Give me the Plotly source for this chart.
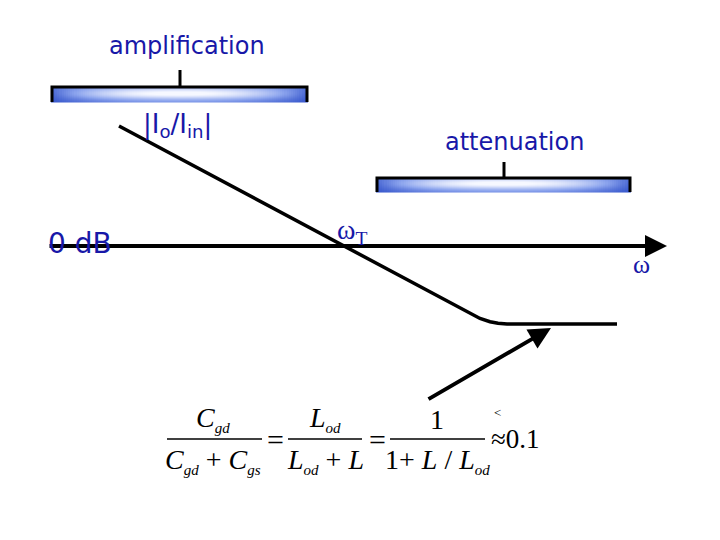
import numpy as np
import plotly.graph_objects as go

# ---- diagram data (pixel-like units on a 720 x 540 canvas) ----
response_x = [119, 343, 470, 480, 490, 498, 507, 617]
response_y = [126, 246, 314, 318.5, 321.7, 323.3, 324, 324]

axis_x = [48, 667]
axis_y = [246, 246]

pointer_x = [427, 551]
pointer_y = [400, 328]

bracket_x0 = [52, 377]
bracket_x1 = [307, 630]
bracket_top = [87, 178]
bracket_bottom = [102, 192]
bracket_tick = [180, 504]
bracket_tick_top = [70, 162]
bracket_labels = ["amplification", "attenuation"]
bracket_label_x = [187, 514]
bracket_label_y = [46, 142]


def sub(s):
    return '<sub><span style="font-size:15px"><i>' + s + '</i></span></sub>'


frac_center = [213, 325, 437]
frac_x0 = [167, 288, 390]
frac_x1 = [262, 362, 485]
frac_num = ["<i>C</i>" + sub("gd"), "<i>L</i>" + sub("od"), "1"]
frac_den = ["<i>C</i>" + sub("gd") + " + <i>C</i>" + sub("gs"),
            "<i>L</i>" + sub("od") + " + <i>L</i>",
            "1+ <i>L</i> / <i>L</i>" + sub("od")]
equals_x = [275, 377]

BLUE_TXT = "#1818a8"
PAGE_MARGIN = 8  # browser body margin around the plot
fig = go.Figure()

# gradient bars for brackets
for x0, x1, yt, yb in zip(bracket_x0, bracket_x1, bracket_top, bracket_bottom):
    xs = np.linspace(x0, x1, 120)
    ys = np.linspace(yt, yb, 16)
    u = (xs - (x0 + x1) / 2) / ((x1 - x0) / 2)
    v = (ys - yt) / (yb - yt)
    hz = np.clip(1 - np.abs(u) ** 2.2, 0, 1)
    vp = np.exp(-((v - 0.42) / 0.38) ** 2)
    z = np.outer(0.3 + 0.7 * vp, hz) * 0.95 + np.outer(0.15 * (1 - v), np.ones_like(xs))
    fig.add_trace(go.Heatmap(x=xs, y=ys, z=z, zmin=0, zmax=1, showscale=False,
                             hoverinfo="skip",
                             colorscale=[[0, "#3656cc"], [0.45, "#8ea6ee"], [1, "#f6f8ff"]]))
    # outline: top and ends
    fig.add_trace(go.Scatter(x=[x0, x0, x1, x1], y=[yb, yt, yt, yb], mode="lines",
                             line=dict(color="black", width=3), hoverinfo="skip"))

for tx, tt, yt in zip(bracket_tick, bracket_tick_top, bracket_top):
    fig.add_trace(go.Scatter(x=[tx, tx], y=[yt, tt], mode="lines",
                             line=dict(color="black", width=3), hoverinfo="skip"))

for lab, lx, ly in zip(bracket_labels, bracket_label_x, bracket_label_y):
    fig.add_annotation(x=lx, y=ly, text=lab, showarrow=False,
                       font=dict(family="DejaVu Sans", size=24, color=BLUE_TXT))

# response curve
fig.add_trace(go.Scatter(x=response_x, y=response_y, mode="lines",
                         line=dict(color="black", width=3.5), hoverinfo="skip"))

# horizontal axis with arrow
fig.add_annotation(x=axis_x[1], y=axis_y[1], ax=axis_x[0], ay=axis_y[0],
                   xref="x", yref="y", axref="x", ayref="y", text="",
                   showarrow=True, arrowhead=2, arrowsize=1.1, arrowwidth=4,
                   arrowcolor="black")

# pointer arrow
fig.add_annotation(x=pointer_x[1], y=pointer_y[1], ax=pointer_x[0], ay=pointer_y[0],
                   xref="x", yref="y", axref="x", ayref="y", text="",
                   showarrow=True, arrowhead=2, arrowsize=1.1, arrowwidth=4,
                   arrowcolor="black")

# labels
fig.add_annotation(x=80, y=243, text="0 dB", showarrow=False,
                   font=dict(family="DejaVu Sans", size=28, color=BLUE_TXT))
fig.add_annotation(x=177, y=125, text="|I<sub>o</sub>/I<sub>in</sub>|", showarrow=False,
                   font=dict(family="DejaVu Sans", size=26, color=BLUE_TXT))
fig.add_annotation(x=352, y=231, text="ω<sub>T</sub>", showarrow=False,
                   font=dict(family="Liberation Serif", size=28, color=BLUE_TXT))
fig.add_annotation(x=641, y=264, text="ω", showarrow=False,
                   font=dict(family="Liberation Serif", size=26, color=BLUE_TXT))

# equation
EQF = dict(family="Liberation Serif", size=28, color="black")
for cx, x0, x1, num, den in zip(frac_center, frac_x0, frac_x1, frac_num, frac_den):
    fig.add_annotation(x=cx, y=419, text=num, showarrow=False, font=EQF)
    fig.add_annotation(x=cx, y=461, text=den, showarrow=False, font=EQF)
    fig.add_trace(go.Scatter(x=[x0, x1], y=[439, 439], mode="lines",
                             line=dict(color="black", width=1.5), hoverinfo="skip"))
for ex in equals_x:
    fig.add_annotation(x=ex, y=439, text="=", showarrow=False,
                       font=dict(family="Liberation Serif", size=30, color="black"))
fig.add_annotation(x=489, y=439, text="≈0.1", showarrow=False, xanchor="left",
                   font=dict(family="Liberation Serif", size=27, color="black"))
fig.add_annotation(x=497, y=412, text="<", showarrow=False, borderpad=0,
                   font=dict(family="Liberation Serif", size=13, color="black"))

W, H = 720, 540
fig.update_layout(width=W - PAGE_MARGIN, height=H - PAGE_MARGIN,
                  margin=dict(l=0, r=0, t=0, b=0),
                  paper_bgcolor="white", plot_bgcolor="white", showlegend=False,
                  xaxis=dict(range=[PAGE_MARGIN, W], visible=False, fixedrange=True),
                  yaxis=dict(range=[H, PAGE_MARGIN], visible=False, fixedrange=True))
fig.write_html("out.html")
